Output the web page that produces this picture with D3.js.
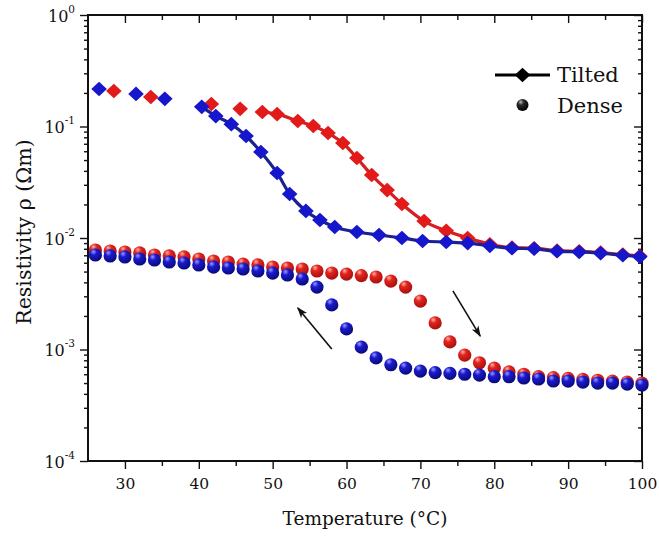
<!DOCTYPE html>
<html>
<head>
<meta charset="utf-8">
<script src="https://cdn.jsdelivr.net/npm/d3@7"></script>
<style>
  body { margin: 0; background: #fff; }
  text { font-family: "DejaVu Serif", serif; fill: #111; }
</style>
</head>
<body>
<svg width="659" height="538"></svg>
<script>
// Tilted films (diamonds + line)
const tiltedHeatT = [28.5, 33.5, 41.7, 45.6, 48.6, 50.6, 53.4, 55.5, 57.5, 59.5, 61.4, 63.4, 65.5, 67.5, 70.5, 73.5, 76.4, 79.4, 82.4, 85.4, 88.5, 91.5, 94.4, 97.4, 99.7];
const tiltedHeatR = [0.208, 0.184, 0.159, 0.144, 0.135, 0.129, 0.112, 0.101, 0.0874, 0.0711, 0.0522, 0.0367, 0.0269, 0.0202, 0.0142, 0.0116, 0.0100, 0.0088, 0.0082, 0.0081, 0.0077, 0.0076, 0.0074, 0.0071, 0.0069];
const tiltedCoolT = [26.5, 31.5, 35.4, 40.4, 42.3, 44.4, 46.4, 48.4, 50.6, 52.3, 54.5, 56.4, 58.4, 61.4, 64.4, 67.5, 70.3, 73.5, 76.4, 79.4, 82.4, 85.4, 88.5, 91.5, 94.4, 97.4, 99.7];
const tiltedCoolR = [0.217, 0.196, 0.177, 0.150, 0.124, 0.105, 0.0822, 0.0591, 0.0383, 0.0248, 0.0175, 0.0145, 0.01256, 0.01132, 0.01064, 0.0100, 0.0094, 0.0092, 0.0090, 0.0085, 0.0081, 0.0080, 0.0076, 0.0075, 0.0073, 0.0070, 0.0068];
// the line is only visible from these temperatures on
const heatLineFrom = 48;
const coolLineFrom = 40;

// Dense films (spheres), every 2 degC from 26 to 100
const denseT = d3.range(26, 101, 2);
const denseHeatR = [0.0078, 0.00764, 0.00749, 0.00734, 0.00704, 0.0069, 0.00676, 0.00648, 0.00622, 0.00609, 0.00584, 0.00573, 0.00549, 0.00538, 0.00527, 0.00506, 0.00485, 0.00475, 0.0046, 0.00447, 0.00411, 0.00363, 0.00272, 0.00173, 0.00117, 0.00089, 0.00076, 0.00068, 0.00063, 0.0006, 0.00057, 0.00056, 0.00055, 0.00054, 0.00053, 0.00052, 0.00051, 0.0005];
const denseCoolR = [0.00704, 0.0069, 0.00676, 0.00648, 0.00635, 0.00609, 0.00597, 0.00573, 0.00549, 0.00538, 0.00527, 0.00506, 0.00485, 0.00466, 0.00429, 0.00363, 0.00251, 0.00153, 0.00105, 0.00084, 0.00073, 0.00068, 0.00064, 0.00062, 0.00061, 0.0006, 0.00059, 0.00057, 0.00057, 0.000555, 0.000544, 0.000522, 0.00052, 0.00051, 0.0005, 0.0005, 0.00049, 0.00048];

const xTicks = [30, 40, 50, 60, 70, 80, 90, 100];
const xMinor = [35, 45, 55, 65, 75, 85, 95];
const yExps = [0, -1, -2, -3, -4];

// arrows: [fromT, fromR, toT, toR]
const arrows = [[58.0, 0.00101, 53.4, 0.00236], [74.4, 0.00335, 78.1, 0.00132]];

const m = { left: 88, right: 17, top: 15, bottom: 77 };
const W = 659, H = 538;
const svg = d3.select('svg');

const x = d3.scaleLinear().domain([25, 100]).range([m.left, W - m.right]);
const y = d3.scaleLog().domain([1e-4, 1]).range([H - m.bottom, m.top]);

const defs = svg.append('defs');
function sphereGrad(id, hi, mid, lo) {
  const g = defs.append('radialGradient').attr('id', id)
    .attr('cx', '38%').attr('cy', '30%').attr('r', '70%').attr('fx', '35%').attr('fy', '25%');
  g.append('stop').attr('offset', '0%').attr('stop-color', hi);
  g.append('stop').attr('offset', '35%').attr('stop-color', mid);
  g.append('stop').attr('offset', '100%').attr('stop-color', lo);
}
sphereGrad('gRed', '#ffb0a8', '#e3241c', '#a81010');
sphereGrad('gBlue', '#9a9cff', '#1a1ad0', '#0a0a78');
sphereGrad('gBlack', '#bbbbbb', '#2a2a2a', '#000000');

defs.append('marker').attr('id', 'arr').attr('viewBox', '0 0 10 10')
  .attr('refX', 9).attr('refY', 5).attr('markerWidth', 13).attr('markerHeight', 11)
  .attr('markerUnits', 'userSpaceOnUse').attr('orient', 'auto')
  .append('path').attr('d', 'M0,1.5 L10,5 L0,8.5 L2.5,5Z').attr('fill', '#111');

const diamond = 'M0,-7.3 L7.8,0 L0,7.3 L-7.8,0Z';

// axes (bottom/left outward, top/right mirrored inward)
const majorY = yExps.map(e => Math.pow(10, e));
const minorY = [];
yExps.slice(1).forEach(e => { for (let k = 2; k < 10; k++) minorY.push(k * Math.pow(10, e)); });

const gx = svg.append('g').attr('transform', `translate(0,${H - m.bottom})`)
  .call(d3.axisBottom(x).tickValues(xTicks).tickSize(8).tickFormat(d3.format('d')))
  .call(g => g.append('g').call(d3.axisBottom(x).tickValues(xMinor).tickSize(5).tickFormat('')));
gx.selectAll('text').attr('font-size', 15.5).attr('dy', '1.1em');

svg.append('g').attr('transform', `translate(0,${m.top})`)
  .call(d3.axisBottom(x).tickValues(xTicks.concat(xMinor)).tickSize(0).tickFormat(''))
  .call(g => g.selectAll('.tick line').attr('y2', d => xTicks.includes(d) ? 8 : 5));

const gy = svg.append('g').attr('transform', `translate(${m.left},0)`)
  .call(d3.axisLeft(y).tickValues(majorY).tickSize(8).tickFormat(''))
  .call(g => g.append('g').call(d3.axisLeft(y).tickValues(minorY).tickSize(4).tickFormat('')));

gy.selectAll('.tick').filter(d => majorY.includes(d)).append('text')
  .attr('x', -13).attr('dy', '0.4em').attr('text-anchor', 'end').attr('font-size', 16)
  .each(function (d) {
    const t = d3.select(this);
    t.append('tspan').text('10');
    t.append('tspan').attr('font-size', 10.5).attr('dy', '-0.85em').text(String(Math.round(Math.log10(d))));
  });

svg.append('g').attr('transform', `translate(${W - m.right},0)`)
  .call(d3.axisRight(y).tickValues(majorY.concat(minorY)).tickSize(0).tickFormat(''))
  .call(g => g.selectAll('.tick line').attr('x2', d => majorY.includes(d) ? -8 : -4));

svg.selectAll('.domain').remove();
svg.selectAll('.tick line').attr('stroke', '#111').attr('stroke-width', 1.4);
svg.append('rect').attr('x', m.left).attr('y', m.top)
  .attr('width', W - m.left - m.right).attr('height', H - m.top - m.bottom)
  .attr('fill', 'none').attr('stroke', '#111').attr('stroke-width', 2);

// axis titles
svg.append('text').attr('x', (m.left + W - m.right) / 2).attr('y', 525)
  .attr('text-anchor', 'middle').attr('font-size', 18.5).text('Temperature (°C)');
svg.append('text').attr('transform', `translate(31,${(m.top + H - m.bottom) / 2 - 6}) rotate(-90)`)
  .attr('text-anchor', 'middle').attr('font-size', 20.5).text('Resistivity ρ (Ωm)');

const plot = svg.append('g');

function drawDense(R, grad) {
  plot.append('g').selectAll('circle').data(denseT.map((t, i) => [t, R[i]])).join('circle')
    .attr('cx', d => x(d[0])).attr('cy', d => y(d[1])).attr('r', 6.6).attr('fill', `url(#${grad})`);
}
function drawTilted(T, R, from, lineCol, fill) {
  const pts = T.map((t, i) => [t, R[i]]);
  const line = d3.line().x(d => x(d[0])).y(d => y(d[1])).curve(d3.curveMonotoneX);
  plot.append('path').datum(pts.filter(d => d[0] >= from)).attr('d', line)
    .attr('fill', 'none').attr('stroke', lineCol).attr('stroke-width', 3.2);
  plot.append('g').selectAll('path').data(pts).join('path')
    .attr('transform', d => `translate(${x(d[0])},${y(d[1])})`).attr('d', diamond).attr('fill', fill);
}

drawDense(denseHeatR, 'gRed');
drawDense(denseCoolR, 'gBlue');
drawTilted(tiltedHeatT, tiltedHeatR, heatLineFrom, '#d42020', '#e31a1a');
drawTilted(tiltedCoolT, tiltedCoolR, coolLineFrom, '#1c2190', '#1616cc');

plot.selectAll('line.arrow').data(arrows).join('line').attr('class', 'arrow')
  .attr('x1', d => x(d[0])).attr('y1', d => y(d[1])).attr('x2', d => x(d[2])).attr('y2', d => y(d[3]))
  .attr('stroke', '#111').attr('stroke-width', 1.6).attr('marker-end', 'url(#arr)');

// legend
const lg = svg.append('g').attr('transform', 'translate(495,75)');
lg.append('line').attr('x1', 0).attr('x2', 55).attr('stroke', '#000').attr('stroke-width', 3);
lg.append('path').attr('d', diamond).attr('transform', 'translate(27.5,0)').attr('fill', '#000');
lg.append('text').attr('x', 62).attr('y', 7).attr('font-size', 21).text('Tilted');
lg.append('circle').attr('cx', 27.5).attr('cy', 30).attr('r', 6).attr('fill', 'url(#gBlack)');
lg.append('text').attr('x', 62).attr('y', 38).attr('font-size', 21).text('Dense');
</script>
</body>
</html>
